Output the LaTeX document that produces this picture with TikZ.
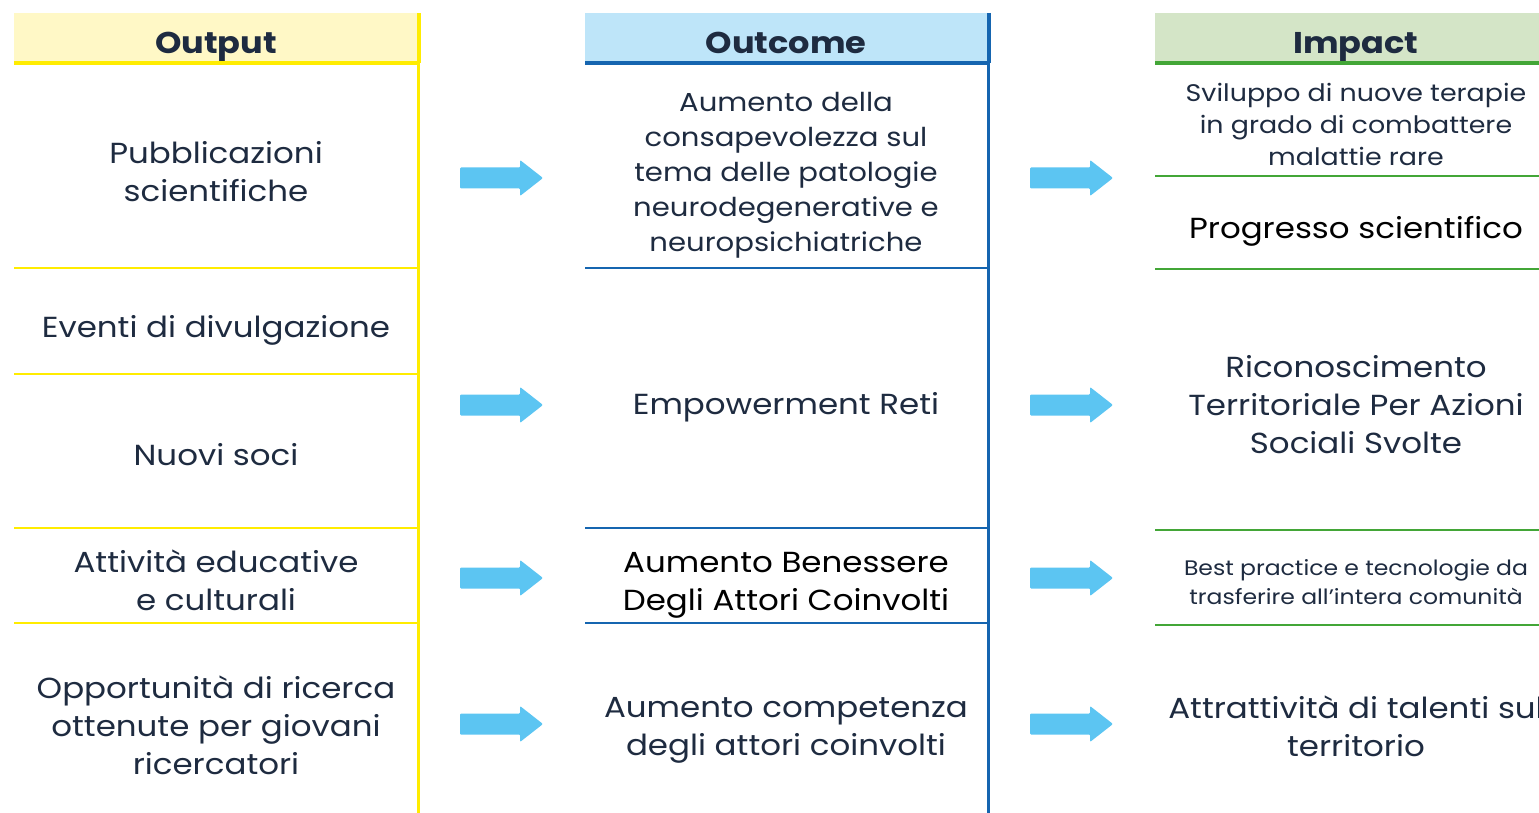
\documentclass[tikz,border=0pt]{standalone}
\usepackage{fontspec}
\setmainfont{Poppins}[FakeStretch=1.12]
\definecolor{txt}{HTML}{1E2B40}
\definecolor{yel}{HTML}{FFEC00}
\definecolor{yelfill}{HTML}{FFF8C6}
\definecolor{blu}{HTML}{1565B0}
\definecolor{blufill}{HTML}{BEE5F9}
\definecolor{grn}{HTML}{43A637}
\definecolor{grnfill}{HTML}{D4E5C7}
\definecolor{arr}{HTML}{5CC5F2}
\tikzset{
  lbl/.style={align=center, text=txt, inner sep=0pt},
  big/.style={lbl, font=\fontsize{29}{38}\selectfont},
  hdr/.style={inner sep=0pt, anchor=base, text=txt, font=\fontsize{30}{36}\selectfont\bfseries},
  flowarrow/.pic={\fill[arr, rounded corners=1pt] (-41.5,-10.5) -- (18.5,-10.5) -- (18.5,-18) -- (41.5,0) -- (18.5,18) -- (18.5,10.5) -- (-41.5,10.5) -- cycle;}
}
\begin{document}
\begin{tikzpicture}[x=1pt,y=-1pt]
\useasboundingbox (0,0) rectangle (1539,813);
% headers
\fill[yelfill] (14,13) rectangle (418,63);
\fill[blufill] (585,13) rectangle (988,63);
\fill[grnfill] (1155,13) rectangle (1539,63);
\node[hdr] (h1) at (216,54) {Output};
\node[hdr] (h2) at (786,54) {Outcome};
\node[hdr] (h3) at (1356,54) {Impact};
% output column lines
\draw[yel, line width=4.5pt] (14,63) -- (420,63);
\draw[yel, line width=4pt] (418.5,13) -- (418.5,63);
\draw[yel, line width=2.5pt] (418.5,63) -- (418.5,813);
\foreach \y in {268,374,528,623} \draw[yel, line width=2.5pt] (14,\y) -- (418,\y);
% outcome column lines
\draw[blu, line width=4.5pt] (585,63) -- (990,63);
\draw[blu, line width=4pt] (988.5,13) -- (988.5,63);
\draw[blu, line width=2.2pt] (988.5,63) -- (988.5,813);
\foreach \y in {268,528,623} \draw[blu, line width=2.2pt] (585,\y) -- (988,\y);
% impact column lines
\draw[grn, line width=4.5pt] (1155,63) -- (1539,63);
\foreach \y in {176,269,530,625} \draw[grn, line width=2.5pt] (1155,\y) -- (1539,\y);
% output texts
\node[big] (o1) at (216,172) {Pubblicazioni\\scientifiche};
\node[big] (o2) at (216,330) {Eventi di divulgazione};
\node[big] (o3) at (216,455) {Nuovi soci};
\node[big] (o4) at (216,580) {Attività educative\\e culturali};
\node[big] (o5) at (216,725) {Opportunità di ricerca\\ottenute per giovani\\ricercatori};
% outcome texts
\node[lbl, font=\fontsize{26}{35}\selectfont] (c1) at (786,175) {Aumento della\\consapevolezza sul\\tema delle patologie\\neurodegenerative e\\neuropsichiatriche};
\node[big] (c2) at (786,407) {Empowerment Reti};
\node[big, text=black] (c3) at (786,585) {Aumento Benessere\\Degli Attori Coinvolti};
\node[big] (c4) at (786,730) {Aumento competenza\\degli attori coinvolti};
% impact texts
\node[lbl, font=\fontsize{24}{32}\selectfont] (i1) at (1356,124) {Sviluppo di nuove terapie\\in grado di combattere\\malattie rare};
\node[big, text=black] (i2) at (1356,231) {Progresso scientifico};
\node[big] (i3) at (1356,405) {Riconoscimento\\Territoriale Per Azioni\\Sociali Svolte};
\node[lbl, font=\fontsize{21}{29}\selectfont] (i4) at (1356,582) {Best practice e tecnologie da\\trasferire all’intera comunità};
\node[big] (i5) at (1356,726) {Attrattività di talenti sul\\territorio};
% arrows
\foreach \y [count=\i] in {178,405,578,724} {
  \pic (la\i) at (501.5,\y) {flowarrow};
  \pic (ra\i) at (1071.5,\y) {flowarrow};
}
\end{tikzpicture}
\end{document}
